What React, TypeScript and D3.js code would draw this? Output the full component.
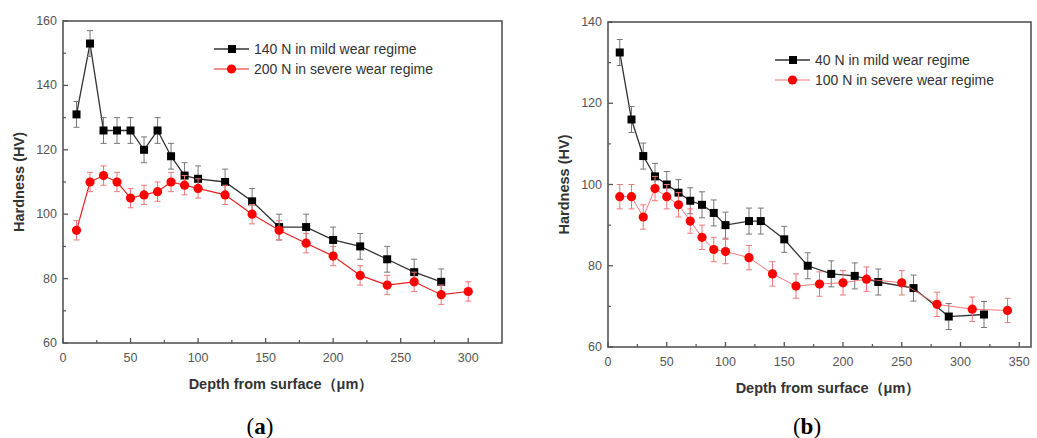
import React from 'react';
import * as d3 from 'd3';

// panel (a)
const aMildDepth = [10, 20, 30, 40, 50, 60, 70, 80, 90, 100, 120, 140, 160, 180, 200, 220, 240, 260, 280];
const aMildHV = [131, 153, 126, 126, 126, 120, 126, 118, 112, 111, 110, 104, 96, 96, 92, 90, 86, 82, 79];
const aSevereDepth = [10, 20, 30, 40, 50, 60, 70, 80, 90, 100, 120, 140, 160, 180, 200, 220, 240, 260, 280, 300];
const aSevereHV = [95, 110, 112, 110, 105, 106, 107, 110, 109, 108, 106, 100, 95, 91, 87, 81, 78, 79, 75, 76];

// panel (b)
const bMildDepth = [10, 20, 30, 40, 50, 60, 70, 80, 90, 100, 120, 130, 150, 170, 190, 210, 230, 260, 290, 320];
const bMildHV = [132.5, 116, 107, 102, 100, 98, 96, 95, 93, 90, 91, 91, 86.5, 80, 78, 77.5, 76, 74.5, 67.5, 68];
const bSevereDepth = [10, 20, 30, 40, 50, 60, 70, 80, 90, 100, 120, 140, 160, 180, 200, 220, 250, 280, 310, 340];
const bSevereHV = [97, 97, 92, 99, 97, 95, 91, 87, 84, 83.5, 82, 78, 75, 75.5, 75.8, 76.7, 75.8, 70.5, 69.3, 69];

const aXTicks = [0, 50, 100, 150, 200, 250, 300];
const aYTicks = [60, 80, 100, 120, 140, 160];
const bXTicks = [0, 50, 100, 150, 200, 250, 300, 350];
const bYTicks = [60, 80, 100, 120, 140];

const font = '"Liberation Sans", Arial, sans-serif';

type Series = { depth: number[]; hv: number[]; err: number; label: string; kind: 'sq' | 'ci' };

function Panel(props: {
  left: number; top: number; right: number; bottom: number;
  xMax: number; yMin: number; yMax: number;
  xTicks: number[]; yTicks: number[];
  series: Series[];
  legendX: number; legendY: number;
  titleX: number; caption: string;
  redLine: string; redWidth: number;
}) {
  const { left, top, right, bottom } = props;
  const x = d3.scaleLinear().domain([0, props.xMax]).range([left, right]);
  const y = d3.scaleLinear().domain([props.yMin, props.yMax]).range([bottom, top]);
  const xMinor = d3.range(25, props.xMax, 50);
  const yMinor = d3.range(props.yMin + 10, props.yMax, 20);
  const frame = '#555';

  return (
    <g>
      {props.series.map((s, si) => {
        const pts = s.depth.map((d, i) => [d, s.hv[i]] as [number, number]);
        const line = d3.line<[number, number]>().x(p => x(p[0])).y(p => y(p[1]));
        const isSq = s.kind === 'sq';
        const lc = isSq ? '#333' : props.redLine;
        const ec = isSq ? '#777' : '#ee7777';
        return (
          <g key={si}>
            <path d={line(pts) || ''} fill="none" stroke={lc} strokeWidth={isSq ? 1.3 : props.redWidth} />
            {pts.map((p, i) => (
              <g key={i} stroke={ec} strokeWidth={1}>
                <line x1={x(p[0])} x2={x(p[0])} y1={y(p[1] - s.err)} y2={y(p[1] + s.err)} />
                <line x1={x(p[0]) - 3} x2={x(p[0]) + 3} y1={y(p[1] - s.err)} y2={y(p[1] - s.err)} />
                <line x1={x(p[0]) - 3} x2={x(p[0]) + 3} y1={y(p[1] + s.err)} y2={y(p[1] + s.err)} />
              </g>
            ))}
            {pts.map((p, i) => isSq
              ? <rect key={'m' + i} x={x(p[0]) - 4} y={y(p[1]) - 4} width={8} height={8} fill="#000" />
              : <circle key={'m' + i} cx={x(p[0])} cy={y(p[1])} r={4.6} fill="#f00" />)}
          </g>
        );
      })}

      <rect x={left} y={top} width={right - left} height={bottom - top} fill="none" stroke={frame} strokeWidth={1.6} />
      {props.xTicks.map(t => (
        <g key={'x' + t}>
          <line x1={x(t)} x2={x(t)} y1={bottom} y2={bottom - 5} stroke={frame} strokeWidth={1.3} />
          <text x={x(t)} y={bottom + 19} textAnchor="middle" fontSize={12.5} fill="#555" fontFamily={font}>{t}</text>
        </g>
      ))}
      {xMinor.map(t => (
        <line key={'xm' + t} x1={x(t)} x2={x(t)} y1={bottom} y2={bottom - 3} stroke={frame} strokeWidth={1.2} />
      ))}
      {props.yTicks.map(t => (
        <g key={'y' + t}>
          <line x1={left} x2={left + 5} y1={y(t)} y2={y(t)} stroke={frame} strokeWidth={1.3} />
          <text x={left - 6} y={y(t) + 4} textAnchor="end" fontSize={12.5} fill="#555" fontFamily={font}>{t}</text>
        </g>
      ))}
      {yMinor.map(t => (
        <line key={'ym' + t} x1={left} x2={left + 3} y1={y(t)} y2={y(t)} stroke={frame} strokeWidth={1.2} />
      ))}

      {props.series.map((s, si) => {
        const ly = props.legendY + si * 20;
        const lx = props.legendX;
        const isSq = s.kind === 'sq';
        return (
          <g key={'l' + si}>
            <line x1={lx} x2={lx + 35} y1={ly} y2={ly} stroke={isSq ? '#333' : props.redLine} strokeWidth={isSq ? 1.3 : props.redWidth} />
            {isSq
              ? <rect x={lx + 14} y={ly - 4} width={8} height={8} fill="#000" />
              : <circle cx={lx + 17.5} cy={ly} r={4.6} fill="#f00" />}
            <text x={lx + 40} y={ly + 5} fontSize={14} fill="#333" fontFamily={font}>{s.label}</text>
          </g>
        );
      })}

      <text transform={`translate(${left - 39},${(top + bottom) / 2}) rotate(-90)`} textAnchor="middle"
        fontSize={14.5} fontWeight="bold" fill="#333" fontFamily={font}>Hardness (HV)</text>
      <text x={props.titleX} y={bottom + 46} textAnchor="middle" fontSize={14.5} fontWeight="bold" fill="#333" fontFamily={font}>
        Depth from surface（μm）
      </text>
      <text x={props.titleX - 21} y={434} textAnchor="middle" fontSize={23} fill="#000" fontFamily='"Liberation Serif", serif'>
        (<tspan fontWeight="bold">{props.caption}</tspan>)
      </text>
    </g>
  );
}

export default function App() {
  return (
    <svg width={1037} height={438} style={{ position: 'absolute', left: 0, top: 0, background: '#fff' }}>
      <Panel left={63} top={21} right={502} bottom={343} xMax={325} yMin={60} yMax={160}
        xTicks={aXTicks} yTicks={aYTicks}
        series={[
          { depth: aMildDepth, hv: aMildHV, err: 4, label: '140 N in mild wear regime', kind: 'sq' },
          { depth: aSevereDepth, hv: aSevereHV, err: 3, label: '200 N in severe wear regime', kind: 'ci' },
        ]}
        legendX={214} legendY={49} titleX={281} caption="a" redLine="#e82020" redWidth={1.2} />
      <Panel left={608} top={22} right={1031} bottom={347} xMax={360} yMin={60} yMax={140}
        xTicks={bXTicks} yTicks={bYTicks}
        series={[
          { depth: bMildDepth, hv: bMildHV, err: 3.2, label: '40 N in mild wear regime', kind: 'sq' },
          { depth: bSevereDepth, hv: bSevereHV, err: 3, label: '100 N in severe wear regime', kind: 'ci' },
        ]}
        legendX={775} legendY={60} titleX={828} caption="b" redLine="#f06a6a" redWidth={0.9} />
    </svg>
  );
}
